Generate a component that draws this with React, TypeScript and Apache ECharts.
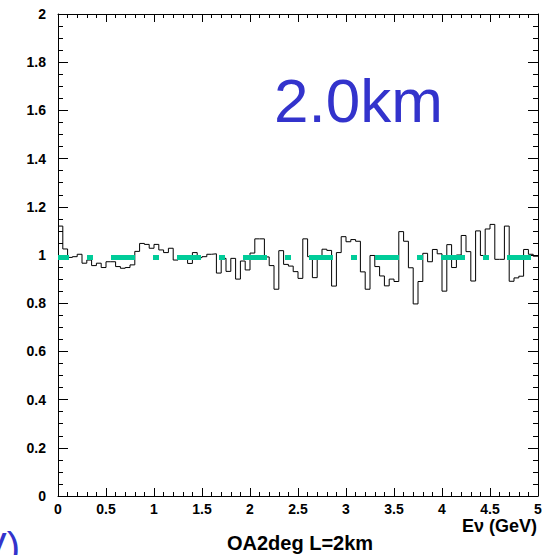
import React, { useEffect, useRef } from "react";
import * as echarts from "echarts";

// Histogram: 100 bins of 0.05 GeV from 0 to 5 GeV
const BIN_WIDTH = 0.05;
const ratioValues = [
  1.12, 1.025, 0.99, 0.993, 1.003, 0.966, 0.979, 0.956, 0.966, 0.948,
  0.972, 0.972, 0.952, 0.945, 0.948, 0.959, 1.015, 1.048, 1.044, 1.028,
  1.044, 1.021, 1.01, 1.028, 0.979, 0.986, 0.986, 0.965, 1.01, 0.989,
  0.993, 1.003, 1.005, 0.925, 0.986, 0.932, 0.986, 0.9, 0.975, 0.938,
  1.008, 1.067, 1.067, 0.992, 0.956, 0.858, 1.018, 0.961, 0.954, 0.931,
  0.903, 1.067, 0.993, 0.906, 0.99, 1.024, 1.019, 0.871, 1.01, 1.076,
  1.055, 1.064, 1.057, 0.93, 0.858, 0.998, 0.952, 0.913, 0.872, 0.9,
  0.89, 1.097, 1.057, 0.947, 0.797, 0.89, 1.007, 0.972, 1.023, 1.005,
  0.85, 1.043, 0.948, 1.0, 1.081, 1.014, 0.892, 1.1, 0.998, 1.108,
  1.127, 0.982, 0.982, 1.12, 0.891, 0.905, 0.912, 1.023, 1.003, 0.995,
];
const referenceLevel = 0.99;
const xRange = [0, 5];
const yRange = [0, 2];
const titleText = "2.0km";
const xAxisTitle = "E\u03bd (GeV)";
const bottomTitle = "OA2deg L=2km";
const partialText = "(GeV)";

const FONT = "'Liberation Sans', Arial, Helvetica, sans-serif";

function axisCommon(major: number, minor: number, split: number) {
  return {
    axisLine: { show: true, onZero: false, lineStyle: { color: "#000", width: 1 } },
    axisTick: { show: true, inside: false, length: -major, lineStyle: { color: "#000" } },
    minorTick: { show: true, splitNumber: split, length: -minor, lineStyle: { color: "#000" } },
    splitLine: { show: false },
  };
}

export default function App() {
  const ref = useRef<HTMLDivElement>(null);

  useEffect(() => {
    if (!ref.current) return;
    const chart = echarts.init(ref.current, null, { renderer: "svg" });

    const histData: number[][] = ratioValues.map((v, k) => [k * BIN_WIDTH, v]);
    histData.push([ratioValues.length * BIN_WIDTH, ratioValues[ratioValues.length - 1]]);

    const labelStyle = {
      color: "#000",
      fontFamily: FONT,
      fontWeight: "bold" as const,
      fontSize: 14,
    };

    const option: any = {
      animation: false,
      backgroundColor: "#fff",
      grid: { left: 58, right: 20, top: 14, bottom: 59, containLabel: false },
      xAxis: [
        {
          type: "value",
          min: xRange[0],
          max: xRange[1],
          interval: 0.5,
          ...axisCommon(8, 4, 5),
          axisLabel: { ...labelStyle, margin: 6 },
        },
        {
          type: "value",
          position: "top",
          min: xRange[0],
          max: xRange[1],
          interval: 0.5,
          ...axisCommon(8, 4, 5),
          axisLabel: { show: false },
        },
      ],
      yAxis: [
        {
          type: "value",
          min: yRange[0],
          max: yRange[1],
          interval: 0.2,
          ...axisCommon(10, 5, 4),
          axisLabel: { ...labelStyle, margin: 12 },
        },
        {
          type: "value",
          position: "right",
          min: yRange[0],
          max: yRange[1],
          interval: 0.2,
          ...axisCommon(10, 5, 4),
          axisLabel: { show: false },
        },
      ],
      series: [
        {
          type: "line",
          xAxisIndex: 0,
          yAxisIndex: 0,
          step: "end",
          data: histData,
          symbol: "none",
          lineStyle: { color: "#000", width: 1 },
          z: 2,
        },
        {
          type: "line",
          xAxisIndex: 0,
          yAxisIndex: 0,
          data: [
            [xRange[0], referenceLevel],
            [xRange[1], referenceLevel],
          ],
          symbol: "none",
          lineStyle: {
            color: "#00cc99",
            width: 5,
            type: [24, 18, 6, 18],
            dashOffset: 13,
            cap: "butt",
          },
          z: 3,
        },
      ],
      graphic: [
        {
          type: "text",
          x: 274,
          y: 100.5,
          style: {
            text: titleText,
            fill: "#3333cc",
            font: `normal 62px ${FONT}`,
            align: "left",
            verticalAlign: "middle",
          },
        },
        {
          type: "text",
          x: 537,
          y: 526,
          style: {
            text: xAxisTitle,
            fill: "#000",
            font: `bold 18px ${FONT}`,
            align: "right",
            verticalAlign: "middle",
          },
        },
        {
          type: "text",
          x: 300,
          y: 543,
          style: {
            text: bottomTitle,
            fill: "#000",
            font: `bold 20px ${FONT}`,
            align: "center",
            verticalAlign: "middle",
          },
        },
        {
          type: "text",
          x: 20,
          y: 547,
          style: {
            text: partialText,
            fill: "#3333cc",
            font: `normal 40px ${FONT}`,
            align: "right",
            verticalAlign: "middle",
          },
        },
      ],
    };

    chart.setOption(option);
    return () => chart.dispose();
  }, []);

  return (
    <div
      ref={ref}
      style={{ position: "fixed", left: 0, top: 0, width: 558, height: 555, background: "#fff" }}
    />
  );
}
